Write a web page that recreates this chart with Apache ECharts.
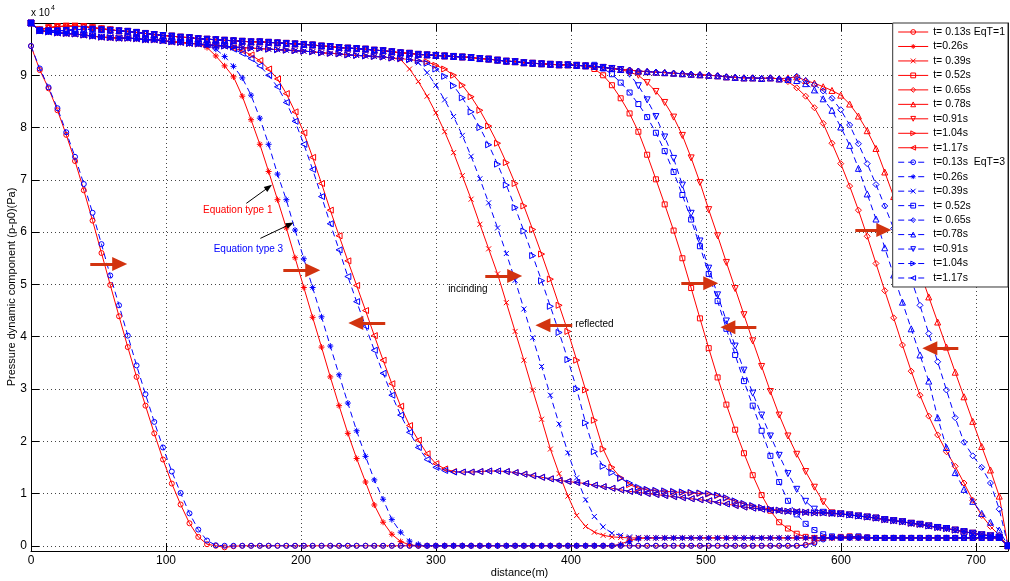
<!DOCTYPE html>
<html><head><meta charset="utf-8">
<script src="https://cdn.jsdelivr.net/npm/echarts@6/dist/echarts.min.js"></script>
<style>html,body{margin:0;padding:0;background:#fff}#c{width:1010px;height:581px}</style>
</head><body><div id="c"></div>
<script>
// ---------- DATA ----------
const distance = [
0,6.5,13,19.6,26.1,32.6,39.1,45.6,52.2,58.7,
65.2,71.7,78.2,84.8,91.3,97.8,104.3,110.8,117.4,123.9,
130.4,136.9,143.4,150,156.5,163,169.5,176,182.6,189.1,
195.6,202.1,208.6,215.2,221.7,228.2,234.7,241.2,247.8,254.3,
260.8,267.3,273.8,280.4,286.9,293.4,299.9,306.4,313,319.5,
326,332.5,339,345.6,352.1,358.6,365.1,371.6,378.2,384.7,
391.2,397.7,404.2,410.8,417.3,423.8,430.3,436.8,443.4,449.9,
456.4,462.9,469.4,476,482.5,489,495.5,502,508.6,515.1,
521.6,528.1,534.6,541.2,547.7,554.2,560.7,567.2,573.8,580.3,
586.8,593.3,599.8,606.4,612.9,619.4,625.9,632.4,639,645.5,
652,658.5,665,671.6,678.1,684.6,691.1,697.6,704.2,710.7,
717.2,723.7];

const xTicks = [0,100,200,300,400,500,600,700];
const yTicks = [0,1,2,3,4,5,6,7,8,9];

const namesEq1 = ['t= 0.13s EqT=1','t=0.26s','t= 0.39s','t= 0.52s','t= 0.65s','t= 0.78s','t=0.91s','t=1.04s','t=1.17s'];
const namesEq3 = ['t=0.13s  EqT=3','t=0.26s ','t=0.39s','t= 0.52s ','t= 0.65s ','t=0.78s','t=0.91s ','t=1.04s ','t=1.17s '];

// pressure (x 10^4 Pa), one value per distance node
const eq1_t013 = [
9.56,9.1,8.75,8.33,7.86,7.36,6.8,6.22,5.6,4.99,
4.39,3.8,3.23,2.68,2.15,1.65,1.19,0.79,0.43,0.17,
0.03,0,-0.03,-0.01,0,0,0,0,0,0,
0,0,0,0,0,0,0,0,0,0,
0,0,0,0,0,0,0,0,0,0,
0,0,0,0,0,0,0,0,0,0,
0,0,0,0,0,0,0,0,0,0,
0,0,0,0,0,0,0,0,0,0,
0,0,0,0,0,0,0,0,0.02,0.07,
0.14,0.16,0.15,0.15,0.15,0.15,0.15,0.15,0.15,0.15,
0.15,0.15,0.15,0.15,0.15,0.15,0.15,0.15,0.15,0.15,
0.15,0];
const eq1_t026 = [
10,9.85,9.83,9.81,9.8,9.79,9.77,9.75,9.73,9.72,
9.71,9.71,9.7,9.68,9.68,9.66,9.64,9.63,9.61,9.6,
9.53,9.37,9.18,8.97,8.6,8.15,7.68,7.16,6.62,6.08,
5.51,4.94,4.37,3.8,3.23,2.68,2.15,1.67,1.22,0.78,
0.45,0.22,0.08,0.02,0,0,0,0,0,0,
0,0,0,0,0,0,0,0,0,0,
0,0,0,0,0,0,0,0.03,0.1,0.14,
0.15,0.15,0.15,0.15,0.15,0.15,0.15,0.15,0.15,0.15,
0.15,0.15,0.15,0.15,0.15,0.15,0.15,0.15,0.15,0.15,
0.15,0.15,0.15,0.15,0.15,0.15,0.15,0.15,0.15,0.15,
0.15,0.15,0.15,0.15,0.15,0.15,0.15,0.15,0.15,0.15,
0.15,0];
const eq1_t039 = [
10,9.85,9.83,9.81,9.8,9.79,9.77,9.75,9.73,9.72,
9.71,9.71,9.7,9.68,9.68,9.66,9.64,9.63,9.61,9.6,
9.58,9.57,9.56,9.54,9.53,9.52,9.51,9.5,9.49,9.48,
9.47,9.46,9.45,9.43,9.42,9.41,9.39,9.38,9.37,9.36,
9.35,9.33,9.3,9.12,8.88,8.6,8.28,7.92,7.52,7.08,
6.63,6.15,5.68,5.2,4.65,4.1,3.55,2.98,2.42,1.85,
1.38,0.95,0.58,0.37,0.26,0.2,0.17,0.16,0.15,0.15,
0.15,0.15,0.15,0.15,0.15,0.15,0.15,0.15,0.15,0.15,
0.15,0.15,0.15,0.15,0.15,0.15,0.15,0.15,0.15,0.15,
0.15,0.15,0.15,0.15,0.15,0.15,0.15,0.15,0.15,0.15,
0.15,0.15,0.15,0.15,0.15,0.15,0.15,0.15,0.15,0.15,
0.15,0];
const eq1_t052 = [
10,9.87,9.91,9.93,9.94,9.94,9.93,9.91,9.89,9.87,
9.85,9.84,9.82,9.8,9.78,9.76,9.75,9.73,9.72,9.7,
9.69,9.68,9.67,9.66,9.65,9.64,9.64,9.63,9.62,9.61,
9.6,9.59,9.58,9.56,9.55,9.53,9.52,9.51,9.5,9.48,
9.47,9.45,9.43,9.42,9.4,9.39,9.38,9.37,9.36,9.35,
9.34,9.32,9.31,9.29,9.27,9.26,9.24,9.23,9.22,9.21,
9.2,9.2,9.19,9.18,9.12,9,8.81,8.56,8.27,7.92,
7.48,7.01,6.53,6.03,5.5,4.93,4.35,3.78,3.22,2.7,
2.22,1.77,1.35,0.97,0.67,0.45,0.33,0.23,0.17,0.15,
0.15,0.16,0.17,0.18,0.17,0.16,0.15,0.15,0.15,0.15,
0.15,0.15,0.15,0.15,0.15,0.15,0.15,0.15,0.15,0.15,
0.15,0];
const eq1_t065 = [
10,9.87,9.91,9.93,9.94,9.94,9.93,9.91,9.89,9.87,
9.85,9.84,9.82,9.8,9.78,9.76,9.75,9.73,9.72,9.7,
9.69,9.68,9.67,9.66,9.65,9.64,9.64,9.63,9.62,9.61,
9.6,9.59,9.58,9.56,9.55,9.53,9.52,9.51,9.5,9.48,
9.47,9.45,9.43,9.42,9.4,9.39,9.38,9.37,9.36,9.35,
9.34,9.32,9.31,9.29,9.27,9.26,9.24,9.23,9.22,9.21,
9.2,9.2,9.19,9.18,9.17,9.15,9.13,9.11,9.1,9.08,
9.07,9.06,9.05,9.04,9.03,9.02,9.01,9,8.99,8.97,
8.96,8.95,8.95,8.94,8.95,8.93,8.88,8.76,8.6,8.38,
8.08,7.7,7.31,6.88,6.42,5.92,5.4,4.88,4.36,3.84,
3.34,2.88,2.48,2.12,1.8,1.52,1.2,0.87,0.58,0.37,
0.2,0];
const eq1_t078 = [
10,9.87,9.91,9.93,9.94,9.94,9.93,9.91,9.89,9.87,
9.85,9.84,9.82,9.8,9.78,9.76,9.75,9.73,9.72,9.7,
9.69,9.68,9.67,9.66,9.65,9.64,9.64,9.63,9.62,9.61,
9.6,9.59,9.58,9.56,9.55,9.53,9.52,9.51,9.5,9.48,
9.47,9.45,9.43,9.42,9.4,9.39,9.38,9.37,9.36,9.35,
9.34,9.32,9.31,9.29,9.27,9.26,9.24,9.23,9.22,9.21,
9.2,9.2,9.19,9.18,9.17,9.15,9.13,9.11,9.1,9.08,
9.07,9.06,9.05,9.04,9.03,9.02,9.01,9,8.99,8.97,
8.96,8.95,8.95,8.94,8.95,8.93,8.95,8.97,8.9,8.85,
8.78,8.71,8.62,8.45,8.22,7.94,7.6,7.15,6.68,6.2,
5.72,5.24,4.76,4.28,3.8,3.32,2.85,2.38,1.9,1.45,
0.95,0];
const eq1_t091 = [
10,9.87,9.91,9.93,9.94,9.94,9.93,9.91,9.89,9.87,
9.85,9.84,9.82,9.8,9.78,9.76,9.75,9.73,9.72,9.7,
9.69,9.68,9.67,9.66,9.65,9.64,9.64,9.63,9.62,9.61,
9.6,9.59,9.58,9.56,9.55,9.53,9.52,9.51,9.5,9.48,
9.47,9.45,9.43,9.42,9.4,9.39,9.38,9.37,9.36,9.35,
9.34,9.32,9.31,9.29,9.27,9.26,9.24,9.23,9.22,9.21,
9.2,9.2,9.19,9.18,9.17,9.15,9.13,9.11,9.06,9,
8.86,8.69,8.48,8.2,7.85,7.42,6.95,6.43,5.93,5.42,
4.92,4.42,3.92,3.43,2.95,2.5,2.1,1.75,1.42,1.12,
0.84,0.63,0.61,0.59,0.57,0.55,0.53,0.5,0.48,0.46,
0.43,0.41,0.38,0.35,0.33,0.3,0.27,0.24,0.21,0.19,
0.16,0];
const eq1_t104 = [
10,9.85,9.83,9.81,9.8,9.79,9.77,9.75,9.73,9.72,
9.71,9.71,9.7,9.68,9.68,9.66,9.64,9.63,9.61,9.6,
9.58,9.57,9.56,9.54,9.53,9.52,9.51,9.5,9.49,9.48,
9.47,9.46,9.45,9.43,9.42,9.41,9.39,9.38,9.37,9.36,
9.35,9.33,9.32,9.3,9.28,9.26,9.19,9.12,9,8.81,
8.59,8.33,8.03,7.7,7.33,6.93,6.5,6.05,5.58,5.1,
4.6,4.1,3.55,2.98,2.4,1.85,1.5,1.3,1.17,1.1,
1.07,1.05,1.04,1.03,1.02,1.01,1,0.99,0.96,0.91,
0.85,0.8,0.76,0.73,0.7,0.68,0.66,0.65,0.64,0.63,
0.63,0.62,0.61,0.59,0.57,0.55,0.53,0.5,0.48,0.46,
0.43,0.41,0.38,0.35,0.33,0.3,0.27,0.24,0.21,0.19,
0.16,0];
const eq1_t117 = [
10,9.85,9.83,9.81,9.8,9.79,9.77,9.75,9.73,9.72,
9.71,9.71,9.7,9.68,9.68,9.66,9.64,9.63,9.61,9.6,
9.58,9.57,9.56,9.52,9.47,9.39,9.28,9.12,8.93,8.65,
8.3,7.9,7.43,6.93,6.42,5.93,5.45,4.98,4.5,4.02,
3.55,3.1,2.67,2.3,2.02,1.76,1.57,1.47,1.42,1.41,
1.41,1.42,1.43,1.43,1.42,1.4,1.37,1.34,1.31,1.28,
1.25,1.23,1.21,1.19,1.16,1.13,1.1,1.07,1.04,1.02,
1,0.98,0.96,0.94,0.92,0.9,0.88,0.86,0.83,0.8,
0.77,0.74,0.72,0.7,0.68,0.67,0.66,0.65,0.64,0.63,
0.63,0.62,0.61,0.59,0.57,0.55,0.53,0.5,0.48,0.46,
0.43,0.41,0.38,0.35,0.33,0.3,0.27,0.24,0.21,0.19,
0.16,0];

const eq3_t013 = [
9.56,9.13,8.77,8.37,7.91,7.44,6.92,6.37,5.77,5.17,
4.6,4.02,3.45,2.9,2.37,1.88,1.42,1.01,0.62,0.31,
0.1,0.01,0,0,0,0,0,0,0,0,
0,0,0,0,0,0,0,0,0,0,
0,0,0,0,0,0,0,0,0,0,
0,0,0,0,0,0,0,0,0,0,
0,0,0,0,0,0,0,0,0,0,
0,0,0,0,0,0,0,0,0,0,
0,0,0,0,0,0,0,0,0.01,0.05,
0.12,0.16,0.15,0.15,0.15,0.15,0.15,0.15,0.15,0.15,
0.15,0.15,0.15,0.15,0.15,0.15,0.15,0.15,0.15,0.15,
0.15,0];
const eq3_t026 = [
10,9.85,9.83,9.81,9.8,9.79,9.77,9.75,9.73,9.72,
9.71,9.71,9.7,9.68,9.68,9.66,9.64,9.63,9.61,9.6,
9.58,9.5,9.36,9.17,8.95,8.62,8.18,7.68,7.11,6.62,
6.04,5.49,4.94,4.38,3.82,3.27,2.73,2.2,1.71,1.26,
0.89,0.5,0.26,0.09,0.03,0,0,0,0,0,
0,0,0,0,0,0,0,0,0,0,
0,0,0,0,0,0,0,0.02,0.08,0.13,
0.15,0.15,0.15,0.15,0.15,0.15,0.15,0.15,0.15,0.15,
0.15,0.15,0.15,0.15,0.15,0.15,0.15,0.15,0.15,0.15,
0.15,0.15,0.15,0.15,0.15,0.15,0.15,0.15,0.15,0.15,
0.15,0.15,0.15,0.15,0.15,0.15,0.15,0.15,0.15,0.15,
0.15,0];
const eq3_t039 = [
10,9.85,9.83,9.81,9.8,9.79,9.77,9.75,9.73,9.72,
9.71,9.71,9.7,9.68,9.68,9.66,9.64,9.63,9.61,9.6,
9.58,9.57,9.56,9.54,9.53,9.52,9.51,9.5,9.49,9.48,
9.47,9.46,9.45,9.43,9.42,9.41,9.39,9.38,9.37,9.36,
9.35,9.33,9.32,9.3,9.24,9.05,8.81,8.53,8.21,7.85,
7.45,7.02,6.56,6.08,5.59,5.08,4.53,3.98,3.43,2.88,
2.33,1.78,1.3,0.88,0.56,0.36,0.24,0.2,0.17,0.16,
0.15,0.15,0.15,0.15,0.15,0.15,0.15,0.15,0.15,0.15,
0.15,0.15,0.15,0.15,0.15,0.15,0.15,0.15,0.15,0.15,
0.15,0.15,0.15,0.15,0.15,0.15,0.15,0.15,0.15,0.15,
0.15,0.15,0.15,0.15,0.15,0.15,0.15,0.15,0.15,0.15,
0.15,0];
const eq3_t052 = [
10,9.86,9.85,9.85,9.86,9.87,9.88,9.88,9.87,9.86,
9.85,9.84,9.82,9.8,9.78,9.76,9.75,9.73,9.72,9.7,
9.69,9.68,9.67,9.66,9.65,9.64,9.64,9.63,9.62,9.61,
9.6,9.59,9.58,9.56,9.55,9.53,9.52,9.51,9.5,9.48,
9.47,9.45,9.43,9.42,9.4,9.39,9.38,9.37,9.36,9.35,
9.34,9.32,9.31,9.29,9.27,9.26,9.24,9.23,9.22,9.21,
9.2,9.2,9.19,9.18,9.2,9.13,9.02,8.86,8.67,8.45,
8.2,7.9,7.55,7.15,6.71,6.24,5.73,5.2,4.68,4.15,
3.65,3.15,2.68,2.2,1.72,1.22,0.86,0.6,0.42,0.3,
0.22,0.18,0.16,0.17,0.18,0.16,0.15,0.15,0.15,0.15,
0.15,0.15,0.15,0.15,0.15,0.15,0.15,0.15,0.15,0.15,
0.15,0];
const eq3_t065 = [
10,9.86,9.85,9.85,9.86,9.87,9.88,9.88,9.87,9.86,
9.85,9.84,9.82,9.8,9.78,9.76,9.75,9.73,9.72,9.7,
9.69,9.68,9.67,9.66,9.65,9.64,9.64,9.63,9.62,9.61,
9.6,9.59,9.58,9.56,9.55,9.53,9.52,9.51,9.5,9.48,
9.47,9.45,9.43,9.42,9.4,9.39,9.38,9.37,9.36,9.35,
9.34,9.32,9.31,9.29,9.27,9.26,9.24,9.23,9.22,9.21,
9.2,9.2,9.19,9.18,9.17,9.15,9.13,9.11,9.1,9.08,
9.07,9.06,9.05,9.04,9.03,9.02,9.01,9,8.99,8.97,
8.96,8.95,8.95,8.94,8.95,8.93,8.93,8.98,8.9,8.82,
8.7,8.56,8.34,8.05,7.69,7.31,6.91,6.5,6.07,5.6,
5.1,4.6,4.06,3.52,2.98,2.45,1.98,1.72,1.5,1.2,
0.7,0];
const eq3_t078 = [
10,9.86,9.85,9.85,9.86,9.87,9.88,9.88,9.87,9.86,
9.85,9.84,9.82,9.8,9.78,9.76,9.75,9.73,9.72,9.7,
9.69,9.68,9.67,9.66,9.65,9.64,9.64,9.63,9.62,9.61,
9.6,9.59,9.58,9.56,9.55,9.53,9.52,9.51,9.5,9.48,
9.47,9.45,9.43,9.42,9.4,9.39,9.38,9.37,9.36,9.35,
9.34,9.32,9.31,9.29,9.27,9.26,9.24,9.23,9.22,9.21,
9.2,9.2,9.19,9.18,9.17,9.15,9.13,9.11,9.1,9.08,
9.07,9.06,9.05,9.04,9.03,9.02,9.01,9,8.99,8.97,
8.96,8.95,8.95,8.94,8.95,8.93,8.92,8.9,8.84,8.72,
8.55,8.33,8.01,7.66,7.22,6.73,6.25,5.7,5.18,4.66,
4.15,3.65,3.15,2.45,1.88,1.4,1.08,0.85,0.62,0.45,
0.3,0];
const eq3_t091 = [
10,9.86,9.85,9.85,9.86,9.87,9.88,9.88,9.87,9.86,
9.85,9.84,9.82,9.8,9.78,9.76,9.75,9.73,9.72,9.7,
9.69,9.68,9.67,9.66,9.65,9.64,9.64,9.63,9.62,9.61,
9.6,9.59,9.58,9.56,9.55,9.53,9.52,9.51,9.5,9.48,
9.47,9.45,9.43,9.42,9.4,9.39,9.38,9.37,9.36,9.35,
9.34,9.32,9.31,9.29,9.27,9.26,9.24,9.23,9.22,9.21,
9.2,9.2,9.19,9.18,9.17,9.15,9.13,9.11,9.02,8.8,
8.53,8.21,7.82,7.41,6.9,6.36,5.83,5.31,4.8,4.3,
3.82,3.36,2.92,2.5,2.1,1.73,1.38,1.08,0.85,0.7,
0.64,0.62,0.61,0.59,0.57,0.55,0.53,0.5,0.48,0.46,
0.43,0.41,0.38,0.35,0.33,0.3,0.27,0.24,0.21,0.19,
0.16,0];
const eq3_t104 = [
10,9.85,9.83,9.81,9.8,9.79,9.77,9.75,9.73,9.72,
9.71,9.71,9.7,9.68,9.68,9.66,9.64,9.63,9.61,9.6,
9.58,9.57,9.56,9.54,9.53,9.52,9.51,9.5,9.49,9.48,
9.47,9.46,9.45,9.43,9.42,9.41,9.39,9.38,9.37,9.36,
9.35,9.33,9.32,9.3,9.28,9.23,9.12,8.98,8.8,8.57,
8.3,8,7.67,7.3,6.9,6.47,6.02,5.55,5.07,4.58,
4.08,3.56,3,2.35,1.8,1.52,1.4,1.29,1.2,1.12,
1.08,1.06,1.05,1.04,1.03,1.02,1.01,1,0.97,0.92,
0.86,0.81,0.77,0.73,0.7,0.68,0.66,0.65,0.64,0.63,
0.63,0.62,0.61,0.59,0.57,0.55,0.53,0.5,0.48,0.46,
0.43,0.41,0.38,0.35,0.33,0.3,0.27,0.24,0.21,0.19,
0.16,0];
const eq3_t117 = [
10,9.85,9.83,9.81,9.8,9.79,9.77,9.75,9.73,9.72,
9.71,9.71,9.7,9.68,9.68,9.66,9.64,9.63,9.61,9.6,
9.58,9.57,9.56,9.5,9.42,9.32,9.18,9,8.78,8.48,
8.12,7.68,7.2,6.68,6.16,5.66,5.15,4.67,4.2,3.74,
3.3,2.88,2.5,2.17,1.88,1.65,1.5,1.44,1.41,1.41,
1.41,1.42,1.43,1.43,1.42,1.4,1.37,1.34,1.31,1.28,
1.25,1.23,1.21,1.19,1.16,1.13,1.1,1.07,1.04,1.02,
1,0.98,0.96,0.94,0.92,0.9,0.88,0.86,0.83,0.8,
0.77,0.74,0.72,0.7,0.68,0.67,0.66,0.65,0.64,0.63,
0.63,0.62,0.61,0.59,0.57,0.55,0.53,0.5,0.48,0.46,
0.43,0.41,0.38,0.35,0.33,0.3,0.27,0.24,0.21,0.19,
0.16,0];

const eq1Series = [eq1_t013,eq1_t026,eq1_t039,eq1_t052,eq1_t065,eq1_t078,eq1_t091,eq1_t104,eq1_t117];
const eq3Series = [eq3_t013,eq3_t026,eq3_t039,eq3_t052,eq3_t065,eq3_t078,eq3_t091,eq3_t104,eq3_t117];

// ---------- STYLE ----------
const FONT = '"Liberation Sans", Arial, Helvetica, sans-serif';
const RED = '#ff0000', BLUE = '#0000ff', ARROW = '#d2330f';
const STAR = 'path://M5,0L5,10M0,5L10,5M1.6,1.6L8.4,8.4M1.6,8.4L8.4,1.6';
const CROSS = 'path://M0,0L10,10M0,10L10,0';
const markers = [
  {symbol:'circle', rotate:0, size:5},
  {symbol:STAR, rotate:0, size:6},
  {symbol:CROSS, rotate:0, size:5},
  {symbol:'rect', rotate:0, size:5},
  {symbol:'diamond', rotate:0, size:6},
  {symbol:'triangle', rotate:0, size:6},
  {symbol:'triangle', rotate:180, size:6},
  {symbol:'triangle', rotate:-90, size:6},
  {symbol:'triangle', rotate:90, size:6}
];

function makeSeries(name, arr, color, m, dashed) {
  return {
    name: name, type: 'line',
    data: distance.map((x, i) => [x, arr[i]]),
    symbol: m.symbol, symbolSize: m.size, symbolRotate: m.rotate,
    showSymbol: true, showAllSymbol: true,
    lineStyle: {color: color, width: 1, type: dashed ? [6, 4] : 'solid'},
    itemStyle: {color: 'rgba(0,0,0,0)', borderColor: color, borderWidth: 1},
    emphasis: {disabled: true},
    animation: false
  };
}

const series = [];
eq1Series.forEach((arr, k) => series.push(makeSeries(namesEq1[k], arr, RED, markers[k], false)));
eq3Series.forEach((arr, k) => series.push(makeSeries(namesEq3[k], arr, BLUE, markers[k], true)));

// annotation arrows (data coordinates), red = wave direction
const redArrows = [
  [[43.9,5.39],[65.7,5.39]],
  [[186.9,5.27],[208.7,5.27]],
  [[336.5,5.16],[358.3,5.16]],
  [[481.7,5.02],[503.5,5.02]],
  [[610.6,6.04],[631.7,6.04]],
  [[262.4,4.26],[240.6,4.26]],
  [[400.9,4.22],[379.2,4.22]],
  [[537.3,4.18],[516.2,4.18]],
  [[686.9,3.78],[665.8,3.78]]
];
const blackArrows = [
  [[159.5,6.55],[176.1,6.86]],
  [[169.9,5.88],[191.9,6.15]]
];
const notes = [
  {coord:[127.4,6.41], text:'Equation type 1', color:RED},
  {coord:[135.3,5.68], text:'Equation type 3', color:BLUE},
  {coord:[309,4.91], text:'incinding', color:'#000'},
  {coord:[403.2,4.24], text:'reflected', color:'#000'}
];

const mlData = [];
redArrows.forEach(a => mlData.push([
  {coord:a[0], symbol:'none', lineStyle:{color:ARROW, width:3}},
  {coord:a[1], symbol:'triangle', symbolSize:[14,15]}
]));
blackArrows.forEach(a => mlData.push([
  {coord:a[0], symbol:'none', lineStyle:{color:'#000', width:1}},
  {coord:a[1], symbol:'triangle', symbolSize:[6,8]}
]));

series.push({
  name: 'annotations', type: 'line', data: [], silent: true, animation: false,
  markLine: {
    silent: true, animation: false, symbol: ['none','triangle'],
    label: {show: false}, emphasis: {disabled: true},
    lineStyle: {type: 'solid'},
    data: mlData
  },
  markPoint: {
    silent: true, animation: false, symbol: 'circle', symbolSize: 0,
    data: notes.map(n => ({
      coord: n.coord,
      label: {show: true, position: 'right', distance: 0, formatter: n.text,
              color: n.color, fontSize: 10, fontFamily: FONT}
    }))
  }
});

const axisLineStyle = {color: '#000', width: 1};
const option = {
  animation: false,
  backgroundColor: '#fff',
  grid: {left: 31, right: 2, top: 23, bottom: 30, containLabel: false, outerBoundsMode: 'none'},
  xAxis: [{
    type: 'value', min: 0, max: 723.7, interval: 100, position: 'bottom',
    name: 'distance(m)', nameLocation: 'middle', nameGap: 16, nameMoveOverlap: false,
    nameTextStyle: {fontSize: 11, color: '#000', fontFamily: FONT},
    axisLine: {onZero: false, lineStyle: axisLineStyle},
    axisTick: {inside: true, length: 8, lineStyle: axisLineStyle},
    axisLabel: {fontSize: 12, color: '#000', margin: 4, fontFamily: FONT,
      formatter: v => xTicks.indexOf(Math.round(v * 1000) / 1000) >= 0 ? String(v) : ''},
    splitLine: {show: true, lineStyle: {color: '#444', type: [1, 3], width: 1}}
  }, {
    type: 'value', min: 0, max: 723.7, interval: 100, position: 'top',
    axisLine: {onZero: false, lineStyle: axisLineStyle},
    axisTick: {inside: true, length: 8, lineStyle: axisLineStyle},
    axisLabel: {show: false}, splitLine: {show: false}
  }],
  yAxis: [{
    type: 'value', min: -0.1, max: 10, minInterval: 1, maxInterval: 1, splitNumber: 10,
    position: 'left',
    name: 'Pressure dynamic component (p-p0)(Pa)', nameLocation: 'middle', nameGap: 14, nameMoveOverlap: false,
    nameTextStyle: {fontSize: 11, color: '#000', fontFamily: FONT},
    axisLine: {onZero: false, lineStyle: axisLineStyle},
    axisTick: {inside: true, length: 8, lineStyle: axisLineStyle},
    axisLabel: {fontSize: 12, color: '#000', margin: 4, fontFamily: FONT,
      formatter: v => yTicks.indexOf(Math.round(v * 1000) / 1000) >= 0 ? String(v) : ''},
    splitLine: {show: true, lineStyle: {color: '#444', type: [1, 3], width: 1}}
  }, {
    type: 'value', min: -0.1, max: 10, minInterval: 1, maxInterval: 1, splitNumber: 10,
    position: 'right',
    axisLine: {onZero: false, lineStyle: axisLineStyle},
    axisTick: {inside: true, length: 8, lineStyle: axisLineStyle},
    axisLabel: {show: false}, splitLine: {show: false}
  }],
  legend: {
    data: namesEq1.concat(namesEq3),
    orient: 'vertical', right: 2, top: 23,
    itemWidth: 30, itemHeight: 6, itemGap: 2.47,
    padding: [3, 3, 3, 5],
    backgroundColor: '#fff', borderColor: '#333', borderWidth: 1, borderRadius: 0,
    selectedMode: false,
    itemStyle: {color: 'rgba(0,0,0,0)', borderWidth: 1},
    lineStyle: {width: 1},
    textStyle: {fontSize: 10.5, lineHeight: 12, color: '#000', fontFamily: FONT}
  },
  graphic: [
    {type: 'text', left: 31, top: 8, style: {text: 'x 10', fontSize: 10, fill: '#000', font: '10px ' + FONT}},
    {type: 'text', left: 51, top: 5, style: {text: '4', fontSize: 7, fill: '#000', font: '7px ' + FONT}}
  ],
  series: series
};

const chart = echarts.init(document.getElementById('c'), null, {renderer: 'canvas'});
chart.setOption(option);
</script>
</body></html>
